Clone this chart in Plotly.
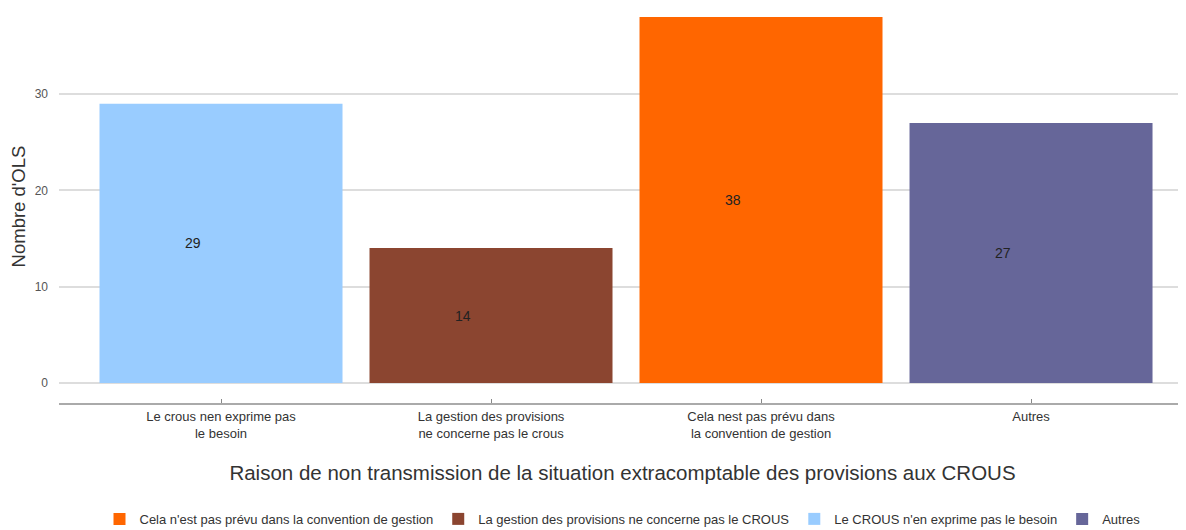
import plotly.graph_objects as go

categories = [
    "Le crous nen exprime pas<br>le besoin",
    "La gestion des provisions<br>ne concerne pas le crous",
    "Cela nest pas prévu dans<br>la convention de gestion",
    "Autres",
]
values = [29, 14, 38, 27]
legend_names = [
    "Le CROUS n'en exprime pas le besoin",
    "La gestion des provisions ne concerne pas le CROUS",
    "Cela n'est pas prévu dans la convention de gestion",
    "Autres",
]
colors = ["#99CCFF", "#8B4530", "#FF6600", "#666699"]
legend_order = [2, 1, 0, 3]  # orange, brown, blue, purple

fig = go.Figure()
for rank, i in enumerate(legend_order):
    fig.add_trace(go.Bar(
        x=[categories[i]], y=[values[i]], name=legend_names[i],
        marker=dict(color=colors[i], line=dict(width=0)),
        width=0.9, hoverinfo="x+y",
    ))

for c, v in zip(categories, values):
    fig.add_annotation(x=c, y=v / 2, text=str(v), showarrow=False, xshift=-28,
                       font=dict(size=14, color="#222222"))

# page body has an 8px default margin, so the figure is sized to fit the window
fig.update_layout(
    width=1178, height=522,
    margin=dict(l=51, r=0, t=2, b=127, autoexpand=False),
    barmode="overlay",
    plot_bgcolor="white", paper_bgcolor="white",
    font=dict(family="Liberation Sans, Arial, sans-serif", color="#333333"),
    showlegend=True,
    legend=dict(orientation="h", x=0.5, xanchor="center", y=-0.295, yanchor="middle",
                font=dict(size=13, color="#333333"), itemsizing="constant",
                traceorder="normal", itemwidth=30),
    xaxis=dict(
        categoryorder="array", categoryarray=categories,
        range=[-0.6, 3.574], automargin=False,
        showline=True, linecolor="#AAAAAA", linewidth=2,
        ticks="inside", ticklen=4, tickcolor="#888888",
        tickfont=dict(size=13, color="#333333"),
        showgrid=False,
        title=dict(text="Raison de non transmission de la situation extracomptable des provisions aux CROUS",
                   font=dict(size=20.5, color="#333333"), standoff=26),
    ),
    yaxis=dict(
        range=[-2.08, 38.72], automargin=False,
        tickvals=[0, 10, 20, 30],
        showgrid=True, gridcolor="#DDDDDD", gridwidth=1.5,
        zeroline=False, showline=False, ticks="",
        tickfont=dict(size=12, color="#555555"),
        ticklabelstandoff=10,
        title=dict(text="Nombre d'OLS", font=dict(size=18.5, color="#333333"), standoff=4),
    ),
)

fig.write_html("out.html")
